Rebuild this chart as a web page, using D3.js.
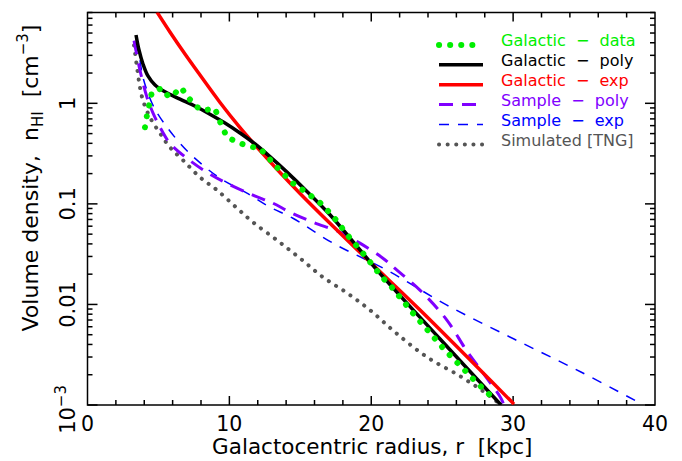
<!DOCTYPE html>
<html>
<head>
<meta charset="utf-8">
<script src="https://cdn.jsdelivr.net/npm/d3@7"></script>
<style>
  body { margin: 0; background: #fff; }
  text { font-family: "DejaVu Sans", sans-serif; }
</style>
</head>
<body>
<svg width="682" height="461"></svg>
<script>
// radius in kpc, density in cm^-3
const galDataR = [4.05, 4.19, 4.55, 5.25, 5.74, 6.17, 6.59, 7.08, 7.65, 8.13, 8.99, 9.2, 9.83, 10.61, 11.31, 12.15, 12.72, 13.35, 14.48, 15.19, 15.89, 16.53, 17.09, 17.65, 18.15, 19.7, 20.75, 21.32, 22.87, 25.12, 27.45, 28.65];
const galDataN = [0.578, 0.76, 1.31, 1.41, 1.15, 1.26, 1.44, 1.15, 0.93, 0.85, 0.89, 0.726, 0.46, 0.41, 0.374, 0.357, 0.291, 0.231, 0.16, 0.137, 0.116, 0.099, 0.081, 0.0658, 0.0523, 0.0289, 0.0187, 0.0156, 0.0084, 0.0036, 0.00166, 0.00115];

const galPolyR = [3.42, 3.63, 3.91, 4.26, 4.76, 5.46, 6.52, 7.56, 8.63, 9.69, 10.75, 11.81, 12.86, 14.06, 15.47, 17.09, 18.85, 20.61, 24.85, 29.15];
const galPolyN = [4.78, 3.39, 2.46, 1.87, 1.52, 1.3, 1.1, 0.94, 0.78, 0.637, 0.507, 0.394, 0.295, 0.207, 0.133, 0.078, 0.0400, 0.0204, 0.00453, 0.001];

const galExpR = [4.9, 5.81, 6.87, 7.93, 9.34, 10.75, 12.16, 13.57, 14.98, 16.6, 19.91, 23.44, 30.06];
const galExpN = [8.07, 5.12, 3.09, 1.91, 1.02, 0.574, 0.339, 0.205, 0.127, 0.075, 0.0264, 0.0088, 0.00102];

const samPolyR = [3.28, 3.7, 4.19, 4.62, 5.11, 5.81, 7.01, 8.42, 9.83, 11.66, 13.07, 14.27, 15.89, 17.79, 19.2, 20.82, 21.81, 23.43, 25.33, 26.74, 27.94, 29.14, 29.35];
const samPolyN = [4.2, 2.13, 1.15, 0.8, 0.578, 0.4, 0.284, 0.206, 0.16, 0.122, 0.1016, 0.0826, 0.0658, 0.0523, 0.0407, 0.0288, 0.0219, 0.0139, 0.00699, 0.00344, 0.00203, 0.00117, 0.001];

const samExpR = [3.28, 3.56, 3.91, 4.55, 5.11, 6.52, 7.72, 9.34, 11.24, 12.86, 14.48, 17.3, 21.11, 25.33, 30.06, 34.78, 39.08];
const samExpN = [4.03, 3.36, 1.81, 1.0, 0.726, 0.4, 0.272, 0.18, 0.128, 0.0927, 0.072, 0.0407, 0.0219, 0.00985, 0.00453, 0.00213, 0.00102];

const tngR = [3.28, 3.49, 3.7, 3.91, 4.4, 5.11, 5.81, 6.73, 7.93, 9.13, 10.54, 11.66, 13.35, 14.98, 16.59, 18.29, 19.91, 21.67, 23.92, 26.25, 28.15, 29.07];
const tngN = [3.77, 2.28, 1.44, 1.07, 0.726, 0.504, 0.366, 0.272, 0.184, 0.137, 0.0906, 0.0658, 0.0436, 0.0288, 0.0187, 0.013, 0.00879, 0.00531, 0.003, 0.00194, 0.00129, 0.00102];

const xTicks = [0, 10, 20, 30, 40];
const yTicks = [1, 0.1, 0.01, 0.001];
const yTickLabels = ["1", "0.1", "0.01", "10"];

const legendLabels = ["Galactic  \u2212  data", "Galactic  \u2212  poly", "Galactic  \u2212  exp",
                      "Sample  \u2212  poly", "Sample  \u2212  exp", "Simulated [TNG]"];

const svg = d3.select("svg");
const mLeft = 87.5, mRight = 655, mTop = 12.5, mBottom = 405;

const x = d3.scaleLinear().domain([0, 40]).range([mLeft, mRight]);
const y = d3.scaleLog().domain([1e-3, 8]).range([mBottom, mTop]);

svg.append("clipPath").attr("id", "plotclip")
  .append("rect").attr("x", mLeft).attr("y", mTop)
  .attr("width", mRight - mLeft).attr("height", mBottom - mTop);

// frame with ticks on every side, pointing inward
const frame = svg.append("g").attr("stroke", "#000").attr("stroke-width", 1.5).attr("fill", "none");
frame.append("rect").attr("x", mLeft).attr("y", mTop)
  .attr("width", mRight - mLeft).attr("height", mBottom - mTop);

const xMinor = d3.range(2, 40, 2);
xMinor.forEach(v => {
  const len = v % 10 === 0 ? 9 : 5;
  frame.append("line").attr("x1", x(v)).attr("x2", x(v)).attr("y1", mBottom).attr("y2", mBottom - len);
  frame.append("line").attr("x1", x(v)).attr("x2", x(v)).attr("y1", mTop).attr("y2", mTop + len);
});

const yMinor = [];
[0.001, 0.01, 0.1, 1].forEach(d => {
  for (let k = 1; k <= 9; k++) if (d * k <= 8) yMinor.push([d * k, k === 1]);
});
yMinor.forEach(([v, major]) => {
  const len = major ? 10 : 5;
  frame.append("line").attr("x1", mLeft).attr("x2", mLeft + len).attr("y1", y(v)).attr("y2", y(v));
  frame.append("line").attr("x1", mRight).attr("x2", mRight - len).attr("y1", y(v)).attr("y2", y(v));
});

// tick labels
svg.append("g").selectAll("text").data(xTicks).join("text")
  .attr("x", d => x(d)).attr("y", 431)
  .attr("text-anchor", "middle").attr("font-size", 20.5)
  .text(d => d);

const yl = svg.append("g").selectAll("text").data(yTicks).join("text")
  .attr("text-anchor", "middle").attr("font-size", 21)
  .attr("transform", d => `translate(75,${y(d)}) rotate(-90)`);
yl.each(function(d, i) {
  const t = d3.select(this);
  t.append("tspan").text(yTickLabels[i]);
  if (d === 0.001) {
    t.append("tspan").attr("dy", -9).attr("font-size", 15).text("\u22123");
  }
});
yl.filter(d => d === 0.001).attr("text-anchor", "end")
  .attr("transform", `translate(75,${y(0.001) - 20}) rotate(-90)`);

// axis titles
svg.append("text").attr("x", (mLeft + mRight) / 2 + 1).attr("y", 454)
  .attr("text-anchor", "middle").attr("font-size", 21.5)
  .style("white-space", "pre")
  .text("Galactocentric radius, r  [kpc]");

const yt = svg.append("text").attr("text-anchor", "middle").attr("font-size", 22)
  .style("white-space", "pre")
  .attr("transform", "translate(38,178) rotate(-90)");
yt.append("tspan").text("Volume density,  n");
yt.append("tspan").attr("dy", 5).attr("font-size", 15).text("HI");
yt.append("tspan").attr("dy", -5).text("  [cm");
yt.append("tspan").attr("dy", -10).attr("font-size", 15).text("\u22123");
yt.append("tspan").attr("dy", 10).text("]");

// curves
const styles = [
  { r: tngR, n: tngN, color: "#555555", width: 4, dash: "0.1 8.5", cap: "round", curve: d3.curveCatmullRom },
  { r: samExpR, n: samExpN, color: "#0000ff", width: 1.5, dash: "10 9", cap: "butt", curve: d3.curveCatmullRom },
  { r: samPolyR, n: samPolyN, color: "#8000ff", width: 3, dash: "14 9", cap: "butt", curve: d3.curveCatmullRom },
  { r: galExpR, n: galExpN, color: "#ff0000", width: 3.5, dash: null, cap: "butt", curve: d3.curveCatmullRom },
  { r: galPolyR, n: galPolyN, color: "#000000", width: 3.5, dash: null, cap: "butt", curve: d3.curveCatmullRom },
  { r: galDataR, n: galDataN, color: "#00ee00", width: 6, dash: "0.1 11", cap: "round", curve: d3.curveLinear }
];

const plot = svg.append("g").attr("clip-path", "url(#plotclip)");
styles.forEach(s => {
  const pts = s.r.map((r, i) => [r, s.n[i]]);
  const line = d3.line().x(d => x(d[0])).y(d => y(d[1])).curve(s.curve);
  plot.append("path").datum(pts)
    .attr("d", line)
    .attr("fill", "none")
    .attr("stroke", s.color)
    .attr("stroke-width", s.width)
    .attr("stroke-dasharray", s.dash)
    .attr("stroke-linecap", s.cap);
});

// legend
const legendStyles = [styles[5], styles[4], styles[3], styles[2], styles[1], styles[0]];
const lg = svg.append("g");
legendStyles.forEach((s, i) => {
  const by = 46.4 + 19.9 * i;
  lg.append("line").attr("x1", 439).attr("x2", 483).attr("y1", by - 1.5).attr("y2", by - 1.5)
    .attr("stroke", s.color).attr("stroke-width", s.width)
    .attr("stroke-dasharray", s.dash).attr("stroke-linecap", s.cap);
  lg.append("text").attr("x", 501).attr("y", by).attr("font-size", 16)
    .style("white-space", "pre")
    .attr("fill", s.color)
    .text(legendLabels[i]);
});
</script>
</body>
</html>
